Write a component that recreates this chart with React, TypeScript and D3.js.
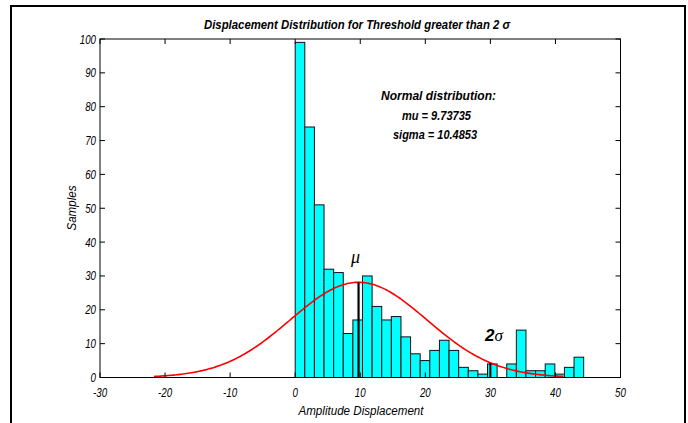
import * as React from "react";
import * as d3 from "d3";

// histogram counts, 30 bins starting at 0
const binStart = 0;
const binWidth = 1.478;
const counts = [
  99, 74, 51, 32, 31, 13, 17, 30, 21, 17,
  18, 12, 7, 5, 8, 11, 8, 3, 2, 1,
  4, 0, 4, 14, 2, 2, 4, 1, 3, 6,
];

// fitted normal distribution
const mu = 9.73735;
const sigma = 10.4853;
const twoSigmaAt = 30;

const xTicks = [-30, -20, -10, 0, 10, 20, 30, 40, 50];
const yTicks = [0, 10, 20, 30, 40, 50, 60, 70, 80, 90, 100];

const W = 688;
const H = 423;
const sans = "'Liberation Sans', Arial, Helvetica, sans-serif";
const serif = "'Liberation Serif', 'Times New Roman', serif";

function Narrow({ x, y, k = 0.78, anchor = "middle", size = 12.5, weight = "normal", children }) {
  return (
    <text
      transform={`translate(${x},${y}) scale(${k},1)`}
      textAnchor={anchor}
      fontFamily={sans}
      fontStyle="italic"
      fontWeight={weight}
      fontSize={size}
      fill="#000"
    >
      {children}
    </text>
  );
}

export default function App() {
  const x = d3.scaleLinear().domain([-30, 50]).range([100, 620.5]);
  const y = d3.scaleLinear().domain([0, 100]).range([377.5, 39]);

  const total = d3.sum(counts);
  const pdf = (v: number) =>
    (total * binWidth) / (sigma * Math.sqrt(2 * Math.PI)) *
    Math.exp(-((v - mu) ** 2) / (2 * sigma * sigma));

  const curveX = d3.range(mu - 3 * sigma, mu + 3 * sigma, 0.25).concat([mu + 3 * sigma]);
  const line = d3
    .line<number>()
    .x((v) => x(v))
    .y((v) => y(pdf(v)));

  const [x0, x1] = x.range();
  const [yb, yt] = y.range();
  const tick = 5;

  return (
    <svg
      width={W}
      height={H}
      style={{ position: "absolute", left: 0, top: 0, background: "#fff" }}
    >
      <rect x={11} y={6} width={674} height={H + 10} fill="none" stroke="#000" strokeWidth={2} />

      {/* title */}
      <text
        x={357}
        y={29}
        textAnchor="middle"
        fontFamily={sans}
        fontStyle="italic"
        fontWeight="bold"
        fontSize={13}
        textLength={306}
        lengthAdjust="spacingAndGlyphs"
      >
        Displacement Distribution for Threshold greater than 2 σ
      </text>

      {/* bars */}
      <g>
        {counts.map((c, i) => {
          const a = binStart + i * binWidth;
          const b = a + binWidth;
          if (c === 0) return null;
          return (
            <rect
              key={i}
              x={x(a)}
              y={y(c)}
              width={x(b) - x(a)}
              height={yb - y(c)}
              fill="#00ffff"
              stroke="#111"
              strokeWidth={1}
            />
          );
        })}
      </g>

      {/* normal fit */}
      <path d={line(curveX) || ""} fill="none" stroke="#ff0000" strokeWidth={1.6} />

      {/* mu and 2 sigma markers */}
      <line x1={x(mu)} x2={x(mu)} y1={yb} y2={y(pdf(mu))} stroke="#000" strokeWidth={2.2} />
      <line x1={x(twoSigmaAt)} x2={x(twoSigmaAt)} y1={yb} y2={y(pdf(twoSigmaAt))} stroke="#000" strokeWidth={2} />
      <text x={x(mu) - 3} y={263} textAnchor="middle" fontFamily={serif} fontStyle="italic" fontSize={18}>
        μ
      </text>
      <text x={494} y={341} textAnchor="middle" fontSize={17}>
        <tspan fontFamily={sans} fontWeight="bold" fontStyle="italic">2</tspan>
        <tspan fontFamily={serif} fontStyle="italic">σ</tspan>
      </text>

      {/* annotation */}
      <g fontFamily={sans} fontStyle="italic" fontWeight="bold" fontSize={13} textAnchor="middle">
        <text x={438.5} y={100} textLength={115} lengthAdjust="spacingAndGlyphs">Normal distribution:</text>
        <text x={436.5} y={120} textLength={69} lengthAdjust="spacingAndGlyphs">mu = 9.73735</text>
        <text x={435} y={139} textLength={84} lengthAdjust="spacingAndGlyphs">sigma = 10.4853</text>
      </g>

      {/* axes box */}
      <rect x={x0} y={yt} width={x1 - x0} height={yb - yt} fill="none" stroke="#000" strokeWidth={1} />
      {xTicks.map((t) => (
        <g key={"x" + t}>
          <line x1={x(t)} x2={x(t)} y1={yb} y2={yb - tick} stroke="#000" />
          <line x1={x(t)} x2={x(t)} y1={yt} y2={yt + tick} stroke="#000" />
          <Narrow x={x(t)} y={397}>{t}</Narrow>
        </g>
      ))}
      {yTicks.map((t) => (
        <g key={"y" + t}>
          <line x1={x0} x2={x0 + tick} y1={y(t)} y2={y(t)} stroke="#000" />
          <line x1={x1} x2={x1 - tick} y1={y(t)} y2={y(t)} stroke="#000" />
          <Narrow x={96} y={y(t) + 4.5} anchor="end">{t}</Narrow>
        </g>
      ))}

      {/* axis labels */}
      <Narrow x={361} y={415} size={13.5} k={0.86}>Amplitude Displacement</Narrow>
      <g transform="translate(76,208) rotate(-90)">
        <Narrow x={0} y={0} size={13.5} k={0.86}>Samples</Narrow>
      </g>
    </svg>
  );
}
